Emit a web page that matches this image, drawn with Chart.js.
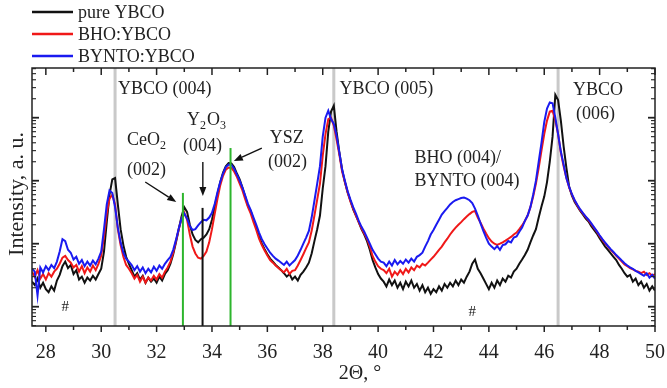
<!DOCTYPE html>
<html>
<head>
<meta charset="utf-8">
<script src="https://cdn.jsdelivr.net/npm/chart.js@4.4.0/dist/chart.umd.min.js"></script>
<style>
  html, body { margin: 0; padding: 0; background: #fff; }
  #xrd { display: block; }
</style>
</head>
<body>
<canvas id="xrd" width="667" height="388"></canvas>
<script>
// 2theta grid, degrees
const twoTheta = [
  27.5, 27.6, 27.7, 27.8, 27.9, 28.0, 28.1, 28.2, 28.3, 28.4,
  28.5, 28.6, 28.7, 28.8, 28.9, 29.0, 29.1, 29.2, 29.3, 29.4,
  29.5, 29.6, 29.7, 29.8, 29.9, 30.0, 30.1, 30.2, 30.3, 30.4,
  30.5, 30.6, 30.7, 30.8, 30.9, 31.0, 31.1, 31.2, 31.3, 31.4,
  31.5, 31.6, 31.7, 31.8, 31.9, 32.0, 32.1, 32.2, 32.3, 32.4,
  32.5, 32.6, 32.7, 32.8, 32.9, 33.0, 33.1, 33.2, 33.3, 33.4,
  33.5, 33.6, 33.7, 33.8, 33.9, 34.0, 34.1, 34.2, 34.3, 34.4,
  34.5, 34.6, 34.7, 34.8, 34.9, 35.0, 35.1, 35.2, 35.3, 35.4,
  35.5, 35.6, 35.7, 35.8, 35.9, 36.0, 36.1, 36.2, 36.3, 36.4,
  36.5, 36.6, 36.7, 36.8, 36.9, 37.0, 37.1, 37.2, 37.3, 37.4,
  37.5, 37.6, 37.7, 37.8, 37.9, 38.0, 38.1, 38.2, 38.3, 38.4,
  38.5, 38.6, 38.7, 38.8, 38.9, 39.0, 39.1, 39.2, 39.3, 39.4,
  39.5, 39.6, 39.7, 39.8, 39.9, 40.0, 40.1, 40.2, 40.3, 40.4,
  40.5, 40.6, 40.7, 40.8, 40.9, 41.0, 41.1, 41.2, 41.3, 41.4,
  41.5, 41.6, 41.7, 41.8, 41.9, 42.0, 42.1, 42.2, 42.3, 42.4,
  42.5, 42.6, 42.7, 42.8, 42.9, 43.0, 43.1, 43.2, 43.3, 43.4,
  43.5, 43.6, 43.7, 43.8, 43.9, 44.0, 44.1, 44.2, 44.3, 44.4,
  44.5, 44.6, 44.7, 44.8, 44.9, 45.0, 45.1, 45.2, 45.3, 45.4,
  45.5, 45.6, 45.7, 45.8, 45.9, 46.0, 46.1, 46.2, 46.3, 46.4,
  46.5, 46.6, 46.7, 46.8, 46.9, 47.0, 47.1, 47.2, 47.3, 47.4,
  47.5, 47.6, 47.7, 47.8, 47.9, 48.0, 48.1, 48.2, 48.3, 48.4,
  48.5, 48.6, 48.7, 48.8, 48.9, 49.0, 49.1, 49.2, 49.3, 49.4,
  49.5, 49.6, 49.7, 49.8, 49.9, 50.0
];

// intensity, a. u. (log scale)
const pureYBCO = [
  25, 22, 28, 20, 24, 19, 17, 21, 18, 26,
  32, 44, 52, 41, 46, 33, 38, 27, 30, 24,
  29, 26, 31, 27, 33, 40, 75, 220, 600, 1050,
  1100, 420, 170, 95, 62, 48, 38, 30, 34, 27,
  31, 24, 29, 25, 28, 24, 30, 26, 33, 38,
  48, 68, 105, 170, 270, 380, 320, 200, 140, 115,
  105, 118, 125, 140, 170, 240, 380, 620, 950, 1350,
  1700, 1900, 1880, 1650, 1300, 1050, 780, 560, 400, 330,
  240, 180, 130, 100, 82, 68, 58, 52, 46, 42,
  38, 34, 30, 33, 27, 30, 26, 32, 36, 42,
  50, 70, 110, 170, 280, 750, 1700, 6000, 12500, 15500,
  6000, 2800, 1500, 950, 650, 480, 350, 280, 220, 170,
  140, 110, 80, 55, 42, 33, 28, 25, 21, 27,
  22, 26, 20, 24, 19, 25, 21, 26, 20, 23,
  18, 22, 17, 20, 16, 19, 17, 21, 18, 23,
  20, 24, 21, 26, 22, 27, 24, 30, 36, 48,
  56, 40, 34, 28, 23, 19, 24, 20, 26, 22,
  28, 25, 31, 29, 36, 40, 48, 56, 66, 80,
  105, 135, 170, 260, 390, 560, 950, 2000, 5000, 23000,
  19000, 9000, 3500, 1600, 800, 580, 460, 390, 330, 290,
  250, 225, 190, 165, 145, 122, 105, 90, 80, 70,
  62, 55, 46, 40, 34, 30, 32, 25, 28, 22,
  25, 20, 23, 18, 21, 18
];

const bhoYBCO = [
  36, 30, 38, 28, 33, 27, 34, 30, 36, 40,
  48, 60, 64, 55, 50, 42, 46, 36, 44, 34,
  42, 36, 45, 38, 48, 65, 130, 300, 520, 600,
  420, 170, 95, 62, 46, 40, 34, 28, 32, 25,
  30, 24, 29, 26, 31, 27, 33, 29, 36, 42,
  52, 72, 110, 170, 250, 310, 240, 140, 90, 70,
  60, 58, 64, 75, 105, 170, 300, 520, 850, 1200,
  1500, 1620, 1600, 1400, 1150, 900, 700, 510, 380, 300,
  220, 165, 120, 95, 78, 65, 55, 50, 45, 41,
  38, 35, 40, 33, 37, 38, 45, 55, 68, 85,
  105, 160, 280, 500, 900, 2500, 5500, 9500, 10000, 7500,
  4500, 2600, 1400, 950, 650, 470, 360, 280, 220, 175,
  145, 120, 90, 64, 52, 44, 40, 38, 34, 40,
  30, 36, 32, 38, 33, 40, 35, 42, 38, 45,
  42, 48, 45, 50, 56, 62, 70, 80, 90, 105,
  120, 140, 160, 180, 200, 220, 245, 270, 295, 320,
  330, 260, 215, 175, 145, 122, 108, 100, 96, 100,
  105, 112, 120, 128, 140, 150, 170, 195, 230, 280,
  380, 560, 900, 1600, 3000, 5500, 9000, 12500, 12900, 9000,
  5500, 2800, 1700, 1100, 780, 600, 480, 400, 340, 300,
  265, 235, 205, 178, 155, 132, 115, 100, 90, 80,
  72, 64, 58, 52, 47, 44, 41, 39, 37, 36,
  34, 36, 32, 34, 31, 33
];

const byntoYBCO = [
  40, 36, 15, 42, 35, 44, 38, 46, 41, 52,
  75, 118, 110, 80, 72, 56, 62, 48, 55, 44,
  52, 45, 54, 47, 58, 75, 170, 420, 700, 640,
  380, 180, 105, 72, 58, 52, 46, 38, 44, 36,
  42, 34, 40, 35, 43, 37, 45, 40, 48, 55,
  62, 80, 115, 175, 250, 300, 250, 190, 165, 170,
  195, 220, 240, 235, 260, 310, 430, 660, 960, 1300,
  1650, 1800, 1780, 1550, 1250, 1000, 780, 580, 430, 340,
  260, 200, 150, 118, 98, 84, 72, 64, 58, 54,
  50, 46, 52, 45, 50, 55, 65, 80, 100, 125,
  160, 260, 480, 900, 1700, 5000, 10000, 12900, 9500, 8000,
  5200, 2800, 1500, 1000, 680, 500, 380, 300, 230, 185,
  155, 125, 100, 80, 68, 58, 52, 50, 44, 52,
  45, 55, 47, 53, 48, 56, 50, 58, 52, 62,
  66, 72, 90, 110, 140, 165, 200, 240, 290, 330,
  370, 420, 460, 490, 510, 530, 540, 520, 490, 440,
  360, 280, 210, 160, 125, 100, 90, 82, 92, 80,
  95, 98, 110, 105, 125, 130, 155, 180, 230, 280,
  380, 600, 1000, 2000, 4000, 8500, 14000, 17500, 17000, 10000,
  5500, 2900, 1800, 1100, 800, 610, 490, 410, 350, 305,
  270, 240, 210, 182, 158, 136, 118, 104, 92, 82,
  74, 66, 60, 54, 49, 45, 42, 40, 37, 35,
  33, 31, 34, 29, 32, 28
];

const seriesNames = ['pure YBCO', 'BHO:YBCO', 'BYNTO:YBCO'];
const xTickLabels = [28, 30, 32, 34, 36, 38, 40, 42, 44, 46, 48, 50];

// reference positions (2theta) and heights (intensity)
const ybcoLines = [30.5, 38.4, 46.5];
const substrateLines = [32.95, 33.66, 34.67];
const substrateTops = [640, 370, 3300];

const SERIF = "'Liberation Serif', 'Times New Roman', serif";
const INK = '#222';

// peak labels, anchored in data coords; [text, subscript?]
const notes = [
  { x: 30.61, y: 28600, parts: [['YBCO (004)', 0]] },
  { x: 33.10, y: 9190, parts: [['Y', 0], ['2', 1], ['O', 0], ['3', 1]] },
  { x: 32.95, y: 3560, parts: [['(004)', 0]] },
  { x: 30.93, y: 4430, parts: [['CeO', 0], ['2', 1]] },
  { x: 30.93, y: 1480, parts: [['(002)', 0]] },
  { x: 36.09, y: 4760, parts: [['YSZ', 0]] },
  { x: 36.02, y: 1980, parts: [['(002)', 0]] },
  { x: 38.61, y: 28600, parts: [['YBCO (005)', 0]] },
  { x: 41.31, y: 2290, parts: [['BHO (004)/', 0]] },
  { x: 41.31, y: 990, parts: [['BYNTO (004)', 0]] },
  { x: 47.04, y: 27500, parts: [['YBCO', 0]] },
  { x: 47.15, y: 11450, parts: [['(006)', 0]] }
];
const hashMarks = [[28.7, 10], [43.4, 8.2]];
const arrows = [
  { from: [31.59, 953], to: [32.71, 459] },
  { from: [33.67, 1980], to: [33.67, 572] },
  { from: [35.80, 3300], to: [34.79, 2055] }
];

function seg(ctx, x1, y1, x2, y2) {
  ctx.beginPath();
  ctx.moveTo(x1, y1);
  ctx.lineTo(x2, y2);
  ctx.stroke();
}

const decorations = {
  id: 'decorations',
  beforeDatasetsDraw(chart) {
    const { ctx, chartArea: a, scales: { x } } = chart;
    ctx.save();
    ctx.strokeStyle = '#c9c9c9';
    ctx.lineWidth = 3;
    ybcoLines.forEach(v => {
      const px = x.getPixelForValue(v);
      seg(ctx, px, a.top, px, a.bottom);
    });
    ctx.restore();
  },
  afterDatasetsDraw(chart) {
    const { ctx, chartArea: a, scales: { x, y } } = chart;
    ctx.save();

    // substrate peak markers
    substrateLines.forEach((v, i) => {
      ctx.strokeStyle = i === 1 ? '#111' : '#2db52d';
      ctx.lineWidth = 2;
      const px = x.getPixelForValue(v);
      seg(ctx, px, y.getPixelForValue(substrateTops[i]), px, a.bottom);
    });

    // frame
    ctx.strokeStyle = INK;
    ctx.lineWidth = 1.5;
    ctx.strokeRect(a.left, a.top, a.right - a.left, a.bottom - a.top);

    // x ticks: top inward, bottom outward
    ctx.lineWidth = 1.5;
    xTickLabels.forEach((v, i) => {
      const px = x.getPixelForValue(v);
      seg(ctx, px, a.top, px, a.top + 7);
      seg(ctx, px, a.bottom, px, a.bottom + 6);
      if (i < xTickLabels.length - 1) {
        const mx = x.getPixelForValue(v + 1);
        seg(ctx, mx, a.top, mx, a.top + 4);
        seg(ctx, mx, a.bottom, mx, a.bottom + 4);
      }
    });

    // log ticks on both sides, inward
    for (let d = 0; d <= 5; d++) {
      for (let m = 1; m <= 9; m++) {
        const v = m * Math.pow(10, d);
        if (v < y.min || v > y.max) continue;
        const py = y.getPixelForValue(v);
        const len = m === 1 ? 7 : 4;
        ctx.lineWidth = m === 1 ? 1.8 : 1.1;
        seg(ctx, a.left, py, a.left + len, py);
        seg(ctx, a.right, py, a.right - len, py);
      }
    }

    // peak labels
    ctx.fillStyle = INK;
    ctx.textBaseline = 'middle';
    ctx.textAlign = 'left';
    notes.forEach(n => {
      let cx = x.getPixelForValue(n.x);
      const cy = y.getPixelForValue(n.y);
      n.parts.forEach(([t, sub]) => {
        ctx.font = (sub ? 12 : 18) + 'px ' + SERIF;
        ctx.fillText(t, cx, cy + (sub ? 6 : 0));
        cx += ctx.measureText(t).width + (sub ? 1 : 0);
      });
    });
    ctx.font = '15px ' + SERIF;
    ctx.textAlign = 'center';
    hashMarks.forEach(([hx, hy]) => {
      ctx.fillText('#', x.getPixelForValue(hx), y.getPixelForValue(hy));
    });

    // arrows
    ctx.strokeStyle = '#111';
    ctx.fillStyle = '#111';
    ctx.lineWidth = 1.4;
    arrows.forEach(({ from, to }) => {
      const x1 = x.getPixelForValue(from[0]), y1 = y.getPixelForValue(from[1]);
      const x2 = x.getPixelForValue(to[0]), y2 = y.getPixelForValue(to[1]);
      const ang = Math.atan2(y2 - y1, x2 - x1);
      const hl = 9, hw = 3.5;
      const bx = x2 - hl * Math.cos(ang), by = y2 - hl * Math.sin(ang);
      seg(ctx, x1, y1, bx, by);
      ctx.beginPath();
      ctx.moveTo(x2, y2);
      ctx.lineTo(bx + hw * Math.sin(ang), by - hw * Math.cos(ang));
      ctx.lineTo(bx - hw * Math.sin(ang), by + hw * Math.cos(ang));
      ctx.closePath();
      ctx.fill();
    });

    // legend
    ctx.textAlign = 'left';
    ctx.font = '18px ' + SERIF;
    chart.data.datasets.forEach((ds, i) => {
      const ly = 12 + 22 * i;
      ctx.strokeStyle = ds.borderColor;
      ctx.lineWidth = 2.5;
      seg(ctx, 32, ly, 73, ly);
      ctx.fillStyle = INK;
      ctx.fillText(ds.label, 78, ly + 1);
    });

    // axis titles
    ctx.fillStyle = INK;
    ctx.textAlign = 'center';
    ctx.font = '20px ' + SERIF;
    ctx.fillText('2Θ, °', 360, 374);
    ctx.translate(17, 194);
    ctx.rotate(-Math.PI / 2);
    ctx.font = '22px ' + SERIF;
    ctx.fillText('Intensity, a. u.', 0, 0);
    ctx.restore();
  }
};

function pts(vals) {
  return twoTheta.map((t, i) => ({ x: t, y: vals[i] }));
}

new Chart(document.getElementById('xrd'), {
  type: 'line',
  data: {
    datasets: [
      { label: seriesNames[0], data: pts(pureYBCO), borderColor: '#111111', order: 3 },
      { label: seriesNames[1], data: pts(bhoYBCO), borderColor: '#f01818', order: 2 },
      { label: seriesNames[2], data: pts(byntoYBCO), borderColor: '#1a1af0', order: 1 }
    ]
  },
  options: {
    responsive: false,
    animation: false,
    devicePixelRatio: 1,
    layout: { padding: { left: 32, right: 12, top: 68, bottom: 0 } },
    plugins: { legend: { display: false }, tooltip: { enabled: false } },
    elements: {
      point: { radius: 0 },
      line: { borderWidth: 2, tension: 0 }
    },
    scales: {
      x: {
        type: 'linear',
        min: 27.5,
        max: 50,
        afterBuildTicks: s => { s.ticks = xTickLabels.map(v => ({ value: v })); },
        afterFit: s => {
          s.height = 62;
          s.paddingLeft = 0;
          s.paddingRight = 0;
        },
        grid: { display: false, drawTicks: false },
        border: { display: false },
        ticks: {
          font: { family: SERIF, size: 20 },
          color: INK,
          padding: 15,
          maxRotation: 0,
          autoSkip: false
        },
        title: { display: false }
      },
      y: {
        type: 'logarithmic',
        display: false,
        min: 4.94,
        max: 61500
      }
    }
  },
  plugins: [decorations]
});
</script>
</body>
</html>
